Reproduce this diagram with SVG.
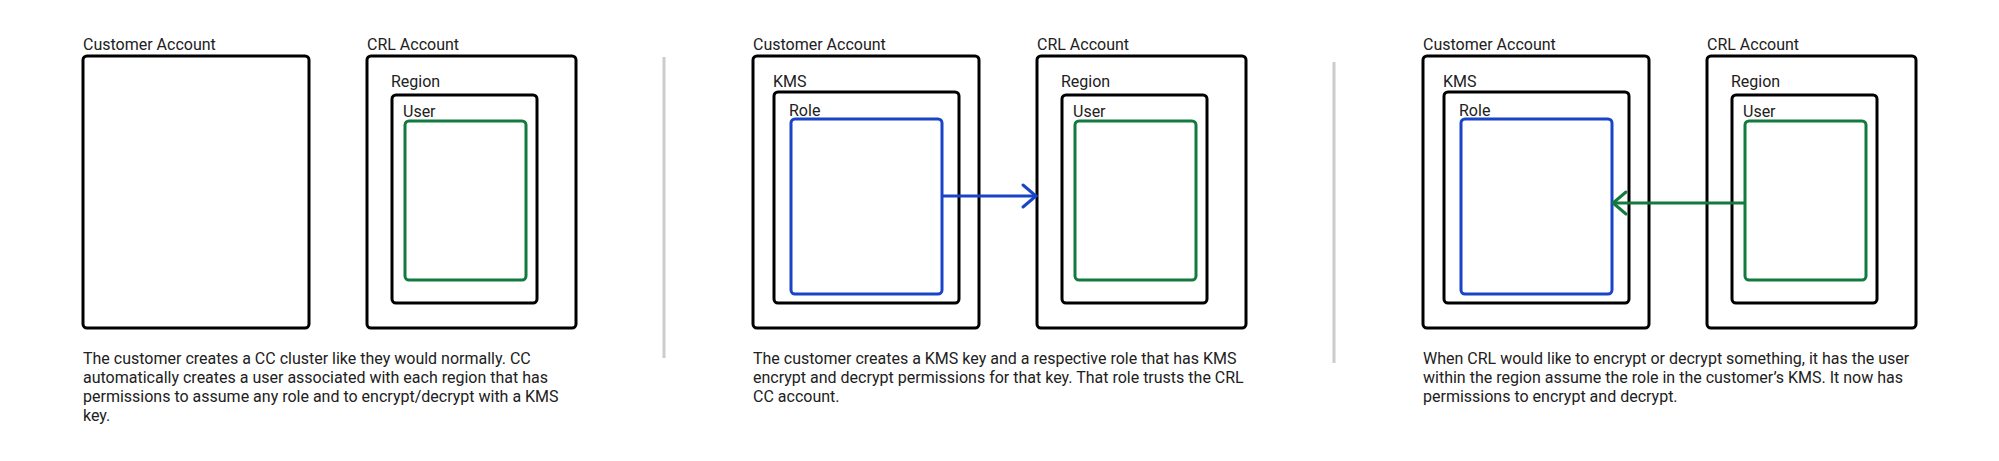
<svg xmlns="http://www.w3.org/2000/svg" width="1999" height="461" viewBox="0 0 1999 461">
<style>
  text { font-family: Roboto, "Liberation Sans", Arial, sans-serif; font-size: 16px; fill: #212121; }
  .box { fill: none; stroke: #000; stroke-width: 3; }
  .role { fill: none; stroke: #1a44c8; stroke-width: 3; }
  .user { fill: none; stroke: #137a3e; stroke-width: 3; }
  .divider { stroke: #cccccc; stroke-width: 3; }
  .arrow-blue { fill: none; stroke: #1a44c8; stroke-width: 3; }
  .arrow-green { fill: none; stroke: #137a3e; stroke-width: 3; }
</style>
<defs>
  <marker id="headBlue" markerUnits="userSpaceOnUse" markerWidth="20" markerHeight="28" viewBox="-2 -3 18 28" refX="13" refY="11" orient="auto">
    <path d="M0,0 L13,11 L0,22" fill="none" stroke="#1a44c8" stroke-width="3" stroke-linecap="round" stroke-linejoin="miter"/>
  </marker>
  <marker id="headGreen" markerUnits="userSpaceOnUse" markerWidth="20" markerHeight="28" viewBox="-2 -3 18 28" refX="13" refY="11" orient="auto">
    <path d="M0,0 L13,11 L0,22" fill="none" stroke="#137a3e" stroke-width="3" stroke-linecap="round" stroke-linejoin="miter"/>
  </marker>
</defs>
<rect width="1999" height="461" fill="#ffffff"/>

<g id="dividers">
  <line class="divider" x1="664" y1="57" x2="664" y2="358"/>
  <line class="divider" x1="1334" y1="62" x2="1334" y2="363"/>
</g>

<!-- Panel 1 -->
<g id="p1-customer-account">
  <text x="83" y="50">Customer Account</text>
  <rect class="box" x="83" y="56" width="226" height="272" rx="4"/>
</g>
<g id="p1-crl-account">
  <text x="367" y="50">CRL Account</text>
  <rect class="box" x="367" y="56" width="209" height="272" rx="4"/>
</g>
<g id="p1-region">
  <text x="391" y="87">Region</text>
  <rect class="box" x="392" y="95" width="145" height="208" rx="4"/>
</g>
<g id="p1-user">
  <text x="403" y="117">User</text>
  <rect class="user" x="405" y="121" width="121" height="159" rx="4"/>
</g>
<g id="p1-caption">
  <text x="83" y="364">The customer creates a CC cluster like they would normally. CC</text>
  <text x="83" y="383">automatically creates a user associated with each region that has</text>
  <text x="83" y="402">permissions to assume any role and to encrypt/decrypt with a KMS</text>
  <text x="83" y="421">key.</text>
</g>

<!-- Panel 2 -->
<g id="p2-customer-account">
  <text x="753" y="50">Customer Account</text>
  <rect class="box" x="753" y="56" width="226" height="272" rx="4"/>
</g>
<g id="p2-kms">
  <text x="773" y="87">KMS</text>
  <rect class="box" x="774" y="92" width="185" height="211" rx="4"/>
</g>
<g id="p2-role">
  <text x="789" y="116">Role</text>
  <rect class="role" x="791" y="119" width="151" height="175" rx="4"/>
</g>
<g id="p2-crl-account">
  <text x="1037" y="50">CRL Account</text>
  <rect class="box" x="1037" y="56" width="209" height="272" rx="4"/>
</g>
<g id="p2-region">
  <text x="1061" y="87">Region</text>
  <rect class="box" x="1062" y="95" width="145" height="208" rx="4"/>
</g>
<g id="p2-user">
  <text x="1073" y="117">User</text>
  <rect class="user" x="1075" y="121" width="121" height="159" rx="4"/>
</g>
<g id="p2-caption">
  <text x="753" y="364">The customer creates a KMS key and a respective role that has KMS</text>
  <text x="753" y="383">encrypt and decrypt permissions for that key. That role trusts the CRL</text>
  <text x="753" y="402">CC account.</text>
</g>

<!-- Panel 3 -->
<g id="p3-customer-account">
  <text x="1423" y="50">Customer Account</text>
  <rect class="box" x="1423" y="56" width="226" height="272" rx="4"/>
</g>
<g id="p3-kms">
  <text x="1443" y="87">KMS</text>
  <rect class="box" x="1444" y="92" width="185" height="211" rx="4"/>
</g>
<g id="p3-role">
  <text x="1459" y="116">Role</text>
  <rect class="role" x="1461" y="119" width="151" height="175" rx="4"/>
</g>
<g id="p3-crl-account">
  <text x="1707" y="50">CRL Account</text>
  <rect class="box" x="1707" y="56" width="209" height="272" rx="4"/>
</g>
<g id="p3-region">
  <text x="1731" y="87">Region</text>
  <rect class="box" x="1732" y="95" width="145" height="208" rx="4"/>
</g>
<g id="p3-user">
  <text x="1743" y="117">User</text>
  <rect class="user" x="1745" y="121" width="121" height="159" rx="4"/>
</g>
<g id="p3-caption">
  <text x="1423" y="364">When CRL would like to encrypt or decrypt something, it has the user</text>
  <text x="1423" y="383">within the region assume the role in the customer’s KMS. It now has</text>
  <text x="1423" y="402">permissions to encrypt and decrypt.</text>
</g>

<g id="connectors">
  <line class="arrow-blue" x1="942" y1="196" x2="1036" y2="196" marker-end="url(#headBlue)"/>
  <line class="arrow-green" x1="1745" y1="203" x2="1613" y2="203" marker-end="url(#headGreen)"/>
</g>
</svg>
